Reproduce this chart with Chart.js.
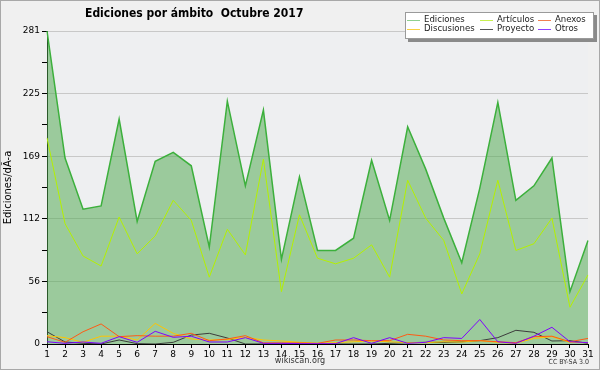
<!DOCTYPE html>
<html>
<head>
<meta charset="utf-8">
<script src="https://cdn.jsdelivr.net/npm/chart.js@4/dist/chart.umd.min.js"></script>
<style>
  html, body { margin: 0; padding: 0; background: #f0f0f0; }
  #wrap { width: 600px; height: 370px; position: relative; }
</style>
</head>
<body>
<div id="wrap"><canvas id="chart" width="600" height="370"></canvas></div>
<script>
// Datos
const dias = Array.from({ length: 31 }, (_, i) => String(i + 1));
const ediciones = [281, 167, 121, 124, 202, 110, 164, 172, 160, 87, 218, 142, 210, 76, 150, 84, 84, 95, 165, 111, 195, 157, 113, 73, 140, 217, 129, 142, 167, 47, 93];
const articulos = [185, 108, 79, 70, 114, 81, 97, 129, 111, 60, 103, 80, 166, 47, 116, 77, 72, 77, 89, 60, 147, 113, 93, 45, 81, 147, 84, 90, 113, 33, 62];
const anexos = [6.6, 1.5, 11, 18, 6.6, 7.5, 7, 7, 9.6, 3, 4.5, 7.5, 1, 1, 1, 0.6, 3.6, 3.6, 3, 3, 8.7, 7, 3.6, 3, 3, 2, 1.2, 6.6, 7, 2, 5];
const discusiones = [7.5, 5.7, 1.5, 7, 7, 3.6, 18.5, 9.6, 4.5, 3.6, 4, 6, 3.6, 2.7, 1.5, 0.6, 1.2, 2, 2.7, 2, 1.2, 1.2, 2, 1.8, 3, 1.5, 0.6, 5, 6.6, 1.5, 1.2];
const proyecto = [11, 1.8, 0.6, 0, 3.6, 0.3, 0, 1.5, 8, 9.6, 5.4, 0, 0, 0, 0, 0, 0, 0, 0, 0.6, 1.2, 1.5, 1.5, 2, 3, 5.7, 12.3, 10.5, 2.7, 3, 0.6];
const otros = [2, 0.6, 1.8, 0.6, 6.6, 1.5, 11.4, 6, 7, 1.8, 1.8, 5.7, 0.6, 0.6, 0.3, 0.3, 0.3, 5.7, 0.6, 5.7, 0.6, 1.5, 5.7, 5, 22, 2, 0.6, 7, 15, 2, 1.2];
const yMax = 281;
const yTickLabels = ['0', '56', '112', '169', '225', '281'];

const FONT = 'DejaVu Sans';
const FONT_C = '"DejaVu Sans Condensed", "DejaVu Sans"';

// Fondo, textos y leyenda dibujados a mano
const decoracion = {
  id: 'decoracion',
  beforeDraw(chart) {
    const { ctx, chartArea: a } = chart;
    ctx.save();
    ctx.fillStyle = '#f0f0f0';
    ctx.fillRect(0, 0, chart.width, chart.height);
    ctx.strokeStyle = '#a8a8a8';
    ctx.lineWidth = 1;
    ctx.strokeRect(0.5, 0.5, chart.width - 1, chart.height - 1);
    ctx.fillStyle = '#eeeff1';
    ctx.fillRect(a.left, a.top, a.right - a.left, a.bottom - a.top);
    ctx.restore();
  },
  afterDraw(chart) {
    const { ctx, chartArea: a } = chart;
    ctx.save();
    // título
    ctx.fillStyle = '#000';
    ctx.font = 'bold 12px ' + FONT_C;
    ctx.textAlign = 'left';
    ctx.textBaseline = 'middle';
    ctx.fillText('Ediciones por ámbito  Octubre 2017', 85, 14);
    // título eje Y
    ctx.save();
    ctx.translate(8, (a.top + a.bottom) / 2);
    ctx.rotate(-Math.PI / 2);
    ctx.textAlign = 'center';
    ctx.font = '10px ' + FONT;
    ctx.fillText('Ediciones/dÃ-a', 0, 0);
    ctx.restore();
    // pie
    ctx.font = '9px ' + FONT_C;
    ctx.textAlign = 'center';
    ctx.fillStyle = '#333';
    ctx.fillText('wikiscan.org', 300, 361);
    ctx.font = '7px ' + FONT_C;
    ctx.textAlign = 'right';
    ctx.fillText('CC BY-SA 3.0', 589, 362);

    // leyenda
    const lx = 405, ly = 12, lw = 189, lh = 27;
    ctx.fillStyle = '#8a8a8a';
    ctx.fillRect(lx + 3, ly + 3, lw, lh);
    ctx.fillStyle = '#ffffff';
    ctx.fillRect(lx, ly, lw, lh);
    ctx.strokeStyle = '#9a9a9a';
    ctx.strokeRect(lx + 0.5, ly + 0.5, lw - 1, lh - 1);
    const cols = [407, 480, 538];
    const rows = [20, 29];
    const pos = [[0, 0], [1, 0], [2, 0], [0, 1], [1, 1], [2, 1]];
    ctx.font = '9.5px ' + FONT_C;
    ctx.textAlign = 'left';
    ctx.textBaseline = 'middle';
    chart.data.datasets.forEach((ds, k) => {
      const [c, r] = pos[k];
      const x = cols[c], y = rows[r];
      ctx.strokeStyle = ds.legendColor || ds.borderColor;
      ctx.lineWidth = 1;
      ctx.beginPath();
      ctx.moveTo(x, y + 0.5);
      ctx.lineTo(x + 13, y + 0.5);
      ctx.stroke();
      ctx.fillStyle = '#222';
      ctx.fillText(ds.label, x + 17, y);
    });
    ctx.restore();
  }
};

const ctx = document.getElementById('chart').getContext('2d');
const chart = new Chart(ctx, {
  type: 'line',
  data: {
    labels: dias,
    datasets: [
      { label: 'Ediciones', data: ediciones, borderColor: '#3cb03c', legendColor: '#8fd08f', backgroundColor: 'rgba(80,170,80,0.525)', fill: 'origin', borderWidth: 1.5, order: 10 },
      { label: 'Artículos', data: articulos, borderColor: '#b4f000', legendColor: '#c8f050', borderWidth: 1, order: 9 },
      { label: 'Anexos', data: anexos, borderColor: '#ff5a14', legendColor: '#f08050', borderWidth: 1, order: 6 },
      { label: 'Discusiones', data: discusiones, borderColor: '#ffc400', legendColor: '#f8d040', borderWidth: 1, order: 7 },
      { label: 'Proyecto', data: proyecto, borderColor: '#3c3c3c', legendColor: '#555555', borderWidth: 1, order: 8 },
      { label: 'Otros', data: otros, borderColor: '#8000ff', legendColor: '#9040ff', borderWidth: 1, order: 5 }
    ]
  },
  options: {
    responsive: false,
    animation: false,
    devicePixelRatio: 1,
    layout: { padding: { top: 31, right: 12, left: 0, bottom: 0 } },
    elements: { point: { radius: 0 }, line: { tension: 0 } },
    plugins: { legend: { display: false }, tooltip: { enabled: false } },
    scales: {
      x: {
        offset: false,
        border: { color: '#000', width: 1 },
        grid: { drawOnChartArea: false, tickColor: '#000', tickLength: 4 },
        ticks: { autoSkip: false, maxRotation: 0, padding: 1, color: '#000', font: { family: FONT, size: 9 } },
        afterFit(scale) { scale.height = 26; }
      },
      y: {
        min: 0,
        max: yMax,
        afterBuildTicks(scale) {
          scale.ticks = Array.from({ length: 11 }, (_, i) => ({ value: yMax * i / 10 }));
        },
        border: { color: '#000', width: 1 },
        grid: {
          color: (c) => (c.index % 2 === 0 && c.index > 0 ? '#c8c8c8' : 'rgba(0,0,0,0)'),
          tickColor: '#000',
          tickLength: 5,
          lineWidth: 1
        },
        ticks: {
          color: '#000',
          padding: 2,
          font: { family: FONT, size: 9 },
          callback: (v, i) => (i % 2 === 0 ? yTickLabels[i / 2] : '')
        },
        afterFit(scale) { scale.width = 47; }
      }
    }
  },
  plugins: [decoracion]
});
</script>
</body>
</html>
